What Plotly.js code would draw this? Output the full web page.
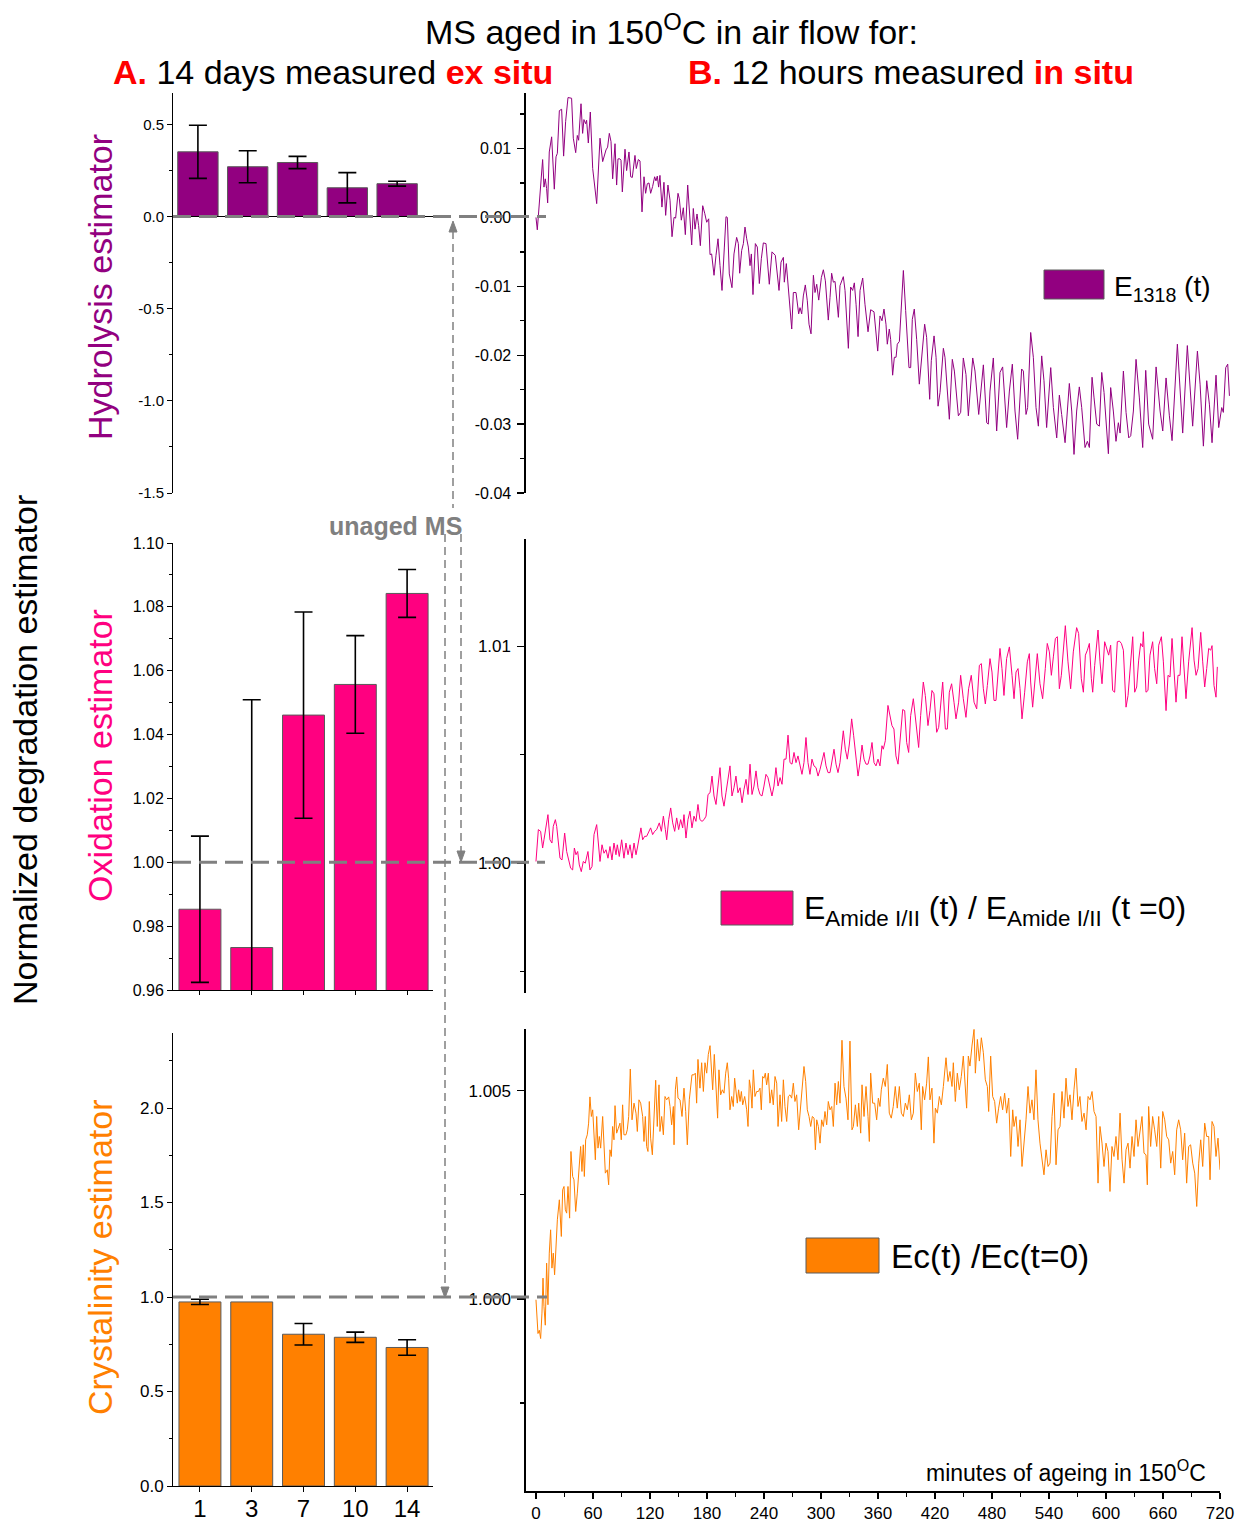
<!DOCTYPE html>
<html><head><meta charset="utf-8">
<script src="https://cdn.plot.ly/plotly-3.0.1.min.js"></script>
<style>html,body{margin:0;padding:0;background:#fff}#chart{width:1244px;height:1522px}</style>
</head><body><div id="chart"></div>
<script>
// ---------- data: ex situ (bars) ----------
const days = ['1', '3', '7', '10', '14'];
const hydroMean = [0.351, 0.270, 0.293, 0.156, 0.178];
const hydroErr  = [0.144, 0.087, 0.033, 0.082, 0.013];
const oxMean = [0.9853, 0.9733, 1.0461, 1.0557, 1.0842];
const oxErr  = [0.0229, 0.0776, 0.0323, 0.0153, 0.0075];
const crystMean = [0.974, 0.974, 0.803, 0.787, 0.733];
const crystErr  = [0.014, NaN, 0.057, 0.027, 0.041];

// tick labels (hyphen minus as in the original figure)
const hydroTickVals = [-1.5, -1.0, -0.5, 0.0, 0.5];
const hydroTickText = ['-1.5', '-1.0', '-0.5', '0.0', '0.5'];
const e1318TickVals = [-0.04, -0.03, -0.02, -0.01, 0.00, 0.01];
const e1318TickText = ['-0.04', '-0.03', '-0.02', '-0.01', '0.00', '0.01'];

// ---------- data: in situ (minutes, estimator) ----------
const tHydro = [
0,1.4,7.0,8.4,9.8,11.2,12.3,14.0,16.5,19.3,
21.1,22.5,24.6,27.0,29.1,31.2,33.7,37.5,39.3,41.8,
43.5,44.9,47.4,49.1,50.5,52.3,53.3,55.1,57.2,59.7,
63.9,67.4,70.2,73.7,75.4,77.2,79.0,80.7,83.2,84.9,
86.3,88.4,89.5,90.9,93.7,95.4,97.9,99.7,101.4,104.2,
105.6,107.7,109.5,111.6,113.7,115.4,117.2,119.0,120.7,122.8,
124.9,126.3,127.7,129.1,130.5,132.6,134.7,136.5,138.9,141.1,
143.2,145.3,147.0,149.5,150.9,153.0,155.1,157.2,159.7,161.8,
163.9,165.6,167.4,169.5,171.2,173.0,175.5,177.6,179.7,181.8,
183.2,184.9,187.4,189.5,191.6,193.7,195.8,198.3,200.0,201.4,
203.5,206.3,208.4,211.2,213.0,214.4,216.5,218.3,220.0,221.8,
223.5,225.3,226.7,228.4,230.9,233.0,235.1,237.2,239.3,242.1,
245.6,248.4,251.9,255.8,257.9,260.4,261.4,263.5,266.7,269.2,
270.9,273.7,276.5,277.9,279.7,281.4,283.5,285.6,287.4,289.5,
292.0,293.7,295.5,297.6,300.4,302.5,304.6,307.7,309.5,311.2,
313.0,314.8,318.3,320.0,323.5,325.3,328.8,331.2,333.3,335.1,
336.9,339.0,341.1,343.9,346.3,349.5,352.3,355.8,359.7,362.1,
364.2,366.3,368.4,369.8,371.9,373.3,375.4,377.2,379.0,380.3,
382.5,384.2,386.7,389.1,392.6,394.4,396.1,398.2,400.7,403.5,
405.6,409.1,411.2,414.4,416.1,419.0,421.1,423.2,425.3,428.8,
430.5,435.1,438.2,440.4,444.6,447.0,449.8,452.6,455.1,459.7,
462.1,466.0,470.9,474.4,476.1,477.9,481.4,484.9,488.4,491.2,
495.4,498.3,501.4,504.2,507.0,511.2,513.0,515.8,517.5,520.7,
523.5,526.3,528.8,532.3,534.7,537.5,541.8,544.6,548.1,550.9,
553.3,556.9,561.4,563.9,566.3,569.1,571.9,574.4,577.9,580.4,
582.5,585.3,587.4,590.2,593.0,595.5,597.9,602.5,604.9,607.7,
610.5,613.0,614.8,618.3,621.1,623.9,626.0,628.8,631.6,635.1,
638.6,641.8,644.9,649.1,652.7,656.9,659.7,663.2,666.7,669.5,
675.1,677.9,680.7,685.6,688.4,691.2,696.2,699.0,702.5,706.0,
708.8,711.6,715.8,718.6,721.8,723.5,726.0,728.1,729.9];
const eHydro = [
0.0000,-0.0018,0.0084,0.0044,0.0056,0.0042,0.0021,0.0095,0.0117,0.0041,
0.0088,0.0093,0.0155,0.0157,0.0089,0.0139,0.0174,0.0173,0.0115,0.0094,
0.0119,0.0112,0.0165,0.0122,0.0142,0.0136,0.0141,0.0108,0.0153,0.0071,
0.0020,0.0115,0.0081,0.0098,0.0102,0.0122,0.0110,0.0056,0.0107,0.0047,
0.0085,0.0085,0.0083,0.0037,0.0099,0.0068,0.0095,0.0059,0.0058,0.0090,
0.0071,0.0084,0.0082,0.0008,0.0059,0.0035,0.0049,0.0050,0.0035,0.0045,
0.0059,0.0053,0.0060,0.0044,0.0061,0.0015,0.0051,0.0003,0.0047,0.0025,
-0.0028,0.0000,-0.0001,0.0035,0.0027,-0.0004,0.0014,-0.0025,0.0047,0.0000,
-0.0040,0.0013,-0.0017,0.0005,-0.0012,-0.0041,0.0017,0.0006,-0.0007,-0.0002,
-0.0054,-0.0053,-0.0084,-0.0055,-0.0031,-0.0070,-0.0106,-0.0043,0.0001,0.0000,
-0.0082,-0.0102,-0.0053,-0.0029,-0.0038,-0.0081,-0.0048,-0.0038,-0.0014,-0.0031,
-0.0043,-0.0070,-0.0053,-0.0112,-0.0038,-0.0043,-0.0096,-0.0060,-0.0037,-0.0038,
-0.0097,-0.0050,-0.0055,-0.0106,-0.0065,-0.0058,-0.0094,-0.0067,-0.0118,-0.0162,
-0.0109,-0.0109,-0.0140,-0.0131,-0.0140,-0.0114,-0.0098,-0.0121,-0.0155,-0.0169,
-0.0084,-0.0109,-0.0097,-0.0120,-0.0087,-0.0076,-0.0092,-0.0149,-0.0116,-0.0081,
-0.0094,-0.0093,-0.0145,-0.0099,-0.0086,-0.0106,-0.0190,-0.0101,-0.0106,-0.0095,
-0.0126,-0.0173,-0.0106,-0.0088,-0.0126,-0.0166,-0.0134,-0.0137,-0.0194,-0.0143,
-0.0150,-0.0133,-0.0155,-0.0184,-0.0162,-0.0177,-0.0229,-0.0203,-0.0203,-0.0184,
-0.0180,-0.0145,-0.0077,-0.0135,-0.0218,-0.0218,-0.0148,-0.0133,-0.0177,-0.0242,
-0.0211,-0.0155,-0.0174,-0.0264,-0.0208,-0.0172,-0.0203,-0.0274,-0.0254,-0.0190,
-0.0203,-0.0293,-0.0206,-0.0223,-0.0288,-0.0283,-0.0204,-0.0228,-0.0288,-0.0204,
-0.0223,-0.0286,-0.0214,-0.0298,-0.0300,-0.0252,-0.0204,-0.0310,-0.0225,-0.0217,
-0.0305,-0.0252,-0.0213,-0.0281,-0.0322,-0.0220,-0.0223,-0.0286,-0.0276,-0.0167,
-0.0203,-0.0276,-0.0303,-0.0201,-0.0237,-0.0305,-0.0218,-0.0276,-0.0320,-0.0258,
-0.0286,-0.0327,-0.0241,-0.0281,-0.0344,-0.0281,-0.0246,-0.0276,-0.0334,-0.0325,
-0.0334,-0.0232,-0.0262,-0.0300,-0.0303,-0.0225,-0.0254,-0.0343,-0.0247,-0.0281,
-0.0325,-0.0298,-0.0313,-0.0223,-0.0283,-0.0320,-0.0317,-0.0281,-0.0206,-0.0262,
-0.0334,-0.0222,-0.0300,-0.0322,-0.0217,-0.0281,-0.0310,-0.0233,-0.0288,-0.0324,
-0.0184,-0.0252,-0.0313,-0.0186,-0.0247,-0.0303,-0.0194,-0.0242,-0.0332,-0.0237,
-0.0271,-0.0327,-0.0229,-0.0305,-0.0276,-0.0283,-0.0218,-0.0213,-0.0259];

const tOx = [
0,2.5,4.9,7.0,8.4,10.5,12.6,14.7,16.8,18.2,
20.4,21.8,23.5,25.3,27.4,30.2,32.3,34.4,36.5,38.6,
40.4,42.1,43.9,45.6,47.7,49.8,51.9,54.7,56.8,59.0,
61.1,63.9,66.0,67.4,69.5,71.6,73.7,75.8,77.9,80.0,
82.1,84.2,85.6,87.7,90.2,92.6,94.7,96.9,99.0,101.1,
103.2,105.3,106.7,108.8,110.5,112.3,114.4,116.5,118.6,120.7,
122.8,124.9,127.0,129.8,132.0,134.1,136.2,137.6,139.7,141.8,
143.9,146.0,148.1,150.2,152.3,154.4,155.8,157.9,160.0,162.1,
164.2,166.3,168.4,170.5,172.6,174.8,176.9,179.0,181.1,183.2,
185.3,187.4,189.5,191.6,193.7,195.8,197.9,200.0,202.1,204.2,
206.3,208.4,210.5,212.6,214.8,216.9,219.0,221.1,223.2,225.3,
227.4,229.5,231.6,233.7,235.8,237.9,240.0,242.1,244.2,246.3,
248.4,250.5,252.6,254.8,256.9,259.0,261.1,263.2,265.3,267.4,
269.5,271.6,273.7,275.8,277.9,280.0,282.1,284.2,286.3,288.4,
290.5,292.6,294.8,296.9,299.0,301.1,303.2,305.3,307.4,309.5,
311.6,313.7,315.8,317.9,320.0,322.1,323.5,325.6,327.7,329.9,
332.3,334.4,336.9,339.0,341.1,343.2,345.3,347.4,349.5,351.6,
353.7,355.8,357.9,360.0,362.1,364.2,365.6,367.7,370.5,372.6,
374.7,376.8,378.9,381.1,383.2,386.0,388.1,390.2,392.3,394.4,
397.2,400.0,402.8,404.9,407.7,409.8,412.6,414.7,416.8,418.9,
421.8,423.9,426.0,428.1,430.9,433.0,435.1,437.5,440.0,442.1,
444.9,447.0,449.8,452.6,455.4,458.2,461.1,463.9,466.7,468.8,
470.9,473.0,475.1,477.9,480.0,482.1,484.2,486.3,488.4,490.5,
492.6,495.4,498.3,501.1,503.2,505.3,507.4,509.5,511.6,514.4,
517.2,519.3,520.7,522.8,525.6,527.7,530.5,533.3,536.1,538.2,
540.4,542.5,544.6,546.7,548.8,550.9,553.0,555.1,557.2,560.0,
562.8,565.6,569.1,571.2,574.0,576.2,578.3,580.4,582.5,584.6,
586.0,588.1,590.2,591.6,593.7,595.8,598.6,600.7,602.8,604.9,
607.0,609.1,611.9,614.1,616.2,618.3,621.1,623.2,625.3,628.1,
630.2,632.3,634.4,636.5,638.6,639.3,642.1,644.2,646.3,649.1,
651.2,653.4,655.5,658.3,660.4,663.2,665.3,667.4,669.5,671.6,
673.7,675.8,677.9,680.0,682.1,684.2,687.0,690.6,692.7,694.8,
696.9,699.7,701.8,703.9,706.0,708.1,710.2,711.6,713.7,715.8,717.2];
const eOx = [
1.00008,1.00155,1.00147,1.00070,1.00108,1.00163,1.00224,1.00108,1.00093,1.00170,
1.00201,1.00170,1.00093,1.00023,1.00015,1.00139,1.00054,1.00015,0.99977,0.99969,
1.00070,1.00039,1.00054,0.99992,0.99961,1.00008,1.00000,1.00054,0.99969,0.99985,
1.00132,1.00178,1.00062,1.00008,1.00085,1.00046,1.00062,1.00023,1.00077,1.00015,
1.00093,1.00039,1.00085,1.00031,1.00108,1.00023,1.00093,1.00039,1.00085,1.00023,
1.00093,1.00039,1.00070,1.00116,1.00163,1.00108,1.00124,1.00124,1.00147,1.00163,
1.00132,1.00147,1.00155,1.00186,1.00147,1.00217,1.00155,1.00108,1.00201,1.00255,
1.00186,1.00147,1.00209,1.00155,1.00201,1.00163,1.00224,1.00116,1.00201,1.00240,
1.00163,1.00217,1.00193,1.00271,1.00201,1.00193,1.00201,1.00217,1.00317,1.00325,
1.00402,1.00310,1.00271,1.00372,1.00441,1.00310,1.00263,1.00325,1.00387,1.00449,
1.00310,1.00348,1.00402,1.00325,1.00348,1.00279,1.00341,1.00387,1.00317,1.00457,
1.00317,1.00356,1.00426,1.00348,1.00317,1.00310,1.00356,1.00410,1.00395,1.00348,
1.00310,1.00356,1.00441,1.00356,1.00395,1.00364,1.00480,1.00480,1.00591,1.00464,
1.00457,1.00511,1.00464,1.00495,1.00449,1.00410,1.00464,1.00580,1.00464,1.00410,
1.00480,1.00449,1.00441,1.00402,1.00433,1.00472,1.00511,1.00449,1.00418,1.00418,
1.00480,1.00526,1.00457,1.00418,1.00464,1.00542,1.00611,1.00526,1.00480,1.00550,
1.00666,1.00588,1.00495,1.00402,1.00464,1.00545,1.00480,1.00457,1.00457,1.00495,
1.00557,1.00464,1.00449,1.00480,1.00449,1.00542,1.00526,1.00565,1.00728,1.00681,
1.00635,1.00619,1.00495,1.00457,1.00557,1.00709,1.00704,1.00557,1.00511,1.00681,
1.00759,1.00635,1.00534,1.00681,1.00836,1.00774,1.00635,1.00704,1.00797,1.00782,
1.00604,1.00627,1.00743,1.00836,1.00619,1.00619,1.00789,1.00828,1.00743,1.00666,
1.00743,1.00867,1.00759,1.00673,1.00805,1.00867,1.00743,1.00712,1.00913,1.00921,
1.00805,1.00735,1.00820,1.00944,1.00882,1.00751,1.00751,1.00898,1.00991,1.00898,
1.00774,1.00944,1.00998,1.00867,1.00759,1.00882,1.00898,1.00805,1.00666,1.00789,
1.00929,1.00967,1.00836,1.00720,1.00867,1.00967,1.00828,1.00759,1.00898,1.01014,
1.00975,1.00867,1.00952,1.01037,1.01045,1.00805,1.00867,1.01006,1.01096,1.00929,
1.00805,1.00975,1.01087,1.01060,1.00851,1.00789,1.00960,1.00983,1.01014,1.00851,
1.00789,1.00913,1.00998,1.01076,1.00929,1.00828,1.01022,1.00991,1.00960,1.01006,
1.00797,1.00789,1.01022,1.01025,1.01014,1.00983,1.00720,1.00774,1.00898,1.01045,
1.00789,1.00813,1.00937,1.01014,1.00998,1.01068,1.00789,1.00797,1.00960,1.01022,
1.00898,1.00828,1.01006,1.01045,1.00929,1.00704,1.00867,1.00859,1.01037,1.00882,
1.00743,1.00867,1.00867,1.01045,1.00882,1.00759,1.00929,1.01087,1.00937,1.00867,
1.00898,1.01065,1.00929,1.00813,1.00898,1.00991,1.00983,1.01004,1.00820,1.00766,1.00906];

const tCryst = [
0,2.1,3.5,4.9,6.3,7.4,8.4,9.8,11.2,12.6,
14.0,15.4,16.8,18.2,19.6,21.1,22.5,24.6,26.7,28.1,
29.5,30.9,32.3,33.7,35.4,36.8,38.6,40.0,41.8,43.5,
45.3,47.0,48.4,49.8,50.9,52.3,54.0,55.4,56.8,58.3,
59.7,61.1,62.5,63.9,65.3,66.7,68.1,70.2,71.6,73.0,
75.1,76.5,77.9,79.3,80.7,82.1,83.2,84.9,86.7,88.4,
89.8,91.2,92.6,94.7,96.1,97.6,99.3,101.1,103.2,105.3,
106.7,108.4,110.2,112.3,113.7,115.1,116.5,117.9,119.3,120.7,
122.5,124.2,126.0,127.7,129.5,130.5,132.3,134.1,135.8,137.6,
139.7,141.1,142.8,144.6,145.3,146.7,148.1,149.5,151.6,153.7,
155.8,157.6,159.3,161.4,162.8,164.2,166.3,167.7,169.1,170.5,
172.6,174.4,176.2,177.9,179.7,181.4,183.2,184.9,186.0,187.7,
189.5,191.2,192.6,194.4,196.2,197.9,199.7,201.4,202.8,204.2,
206.0,207.7,209.1,210.5,211.9,213.3,214.8,216.2,217.6,219.7,
221.8,223.2,224.6,226.0,227.4,228.8,230.5,232.3,234.1,235.8,
237.2,238.6,240.0,241.4,242.8,244.6,246.3,248.1,249.8,251.6,
253.4,254.8,256.9,258.6,260.4,262.1,263.9,265.6,267.4,269.1,
270.9,272.6,274.4,276.5,278.6,280.7,282.1,283.9,285.6,287.4,
289.2,290.9,292.7,294.1,295.5,297.2,299.0,300.7,302.5,304.2,
306.0,307.7,309.5,311.3,313.0,314.8,316.5,318.3,320.0,322.1,
324.2,326.3,328.4,330.5,332.6,334.1,336.2,338.3,339.7,341.8,
343.2,345.3,347.4,349.5,350.9,352.3,354.4,356.5,358.6,360.4,
362.1,363.5,365.6,367.7,369.8,371.9,374.0,376.1,378.2,380.3,
382.5,384.6,386.7,388.8,390.9,393.0,395.1,397.2,399.3,401.4,
403.5,405.6,407.0,409.1,411.2,413.0,414.7,416.8,418.9,420.4,
422.5,424.6,426.7,428.8,431.6,433.7,435.8,437.9,439.3,441.4,
443.5,445.6,447.7,449.8,451.6,453.3,455.1,456.8,458.9,461.1,
462.5,464.6,466.7,468.8,470.9,473.0,475.1,476.5,478.6,480.7,
482.8,484.9,487.0,489.1,491.2,493.3,495.4,497.6,499.7,501.8,
503.2,505.3,507.4,509.5,511.6,513.7,515.8,517.9,520.0,522.1,
524.2,526.3,528.4,530.5,532.6,534.7,536.9,539.0,541.1,543.2,
545.3,547.4,549.5,551.6,553.7,555.8,557.9,560.0,562.1,564.2,
566.3,568.4,570.5,572.6,574.7,576.9,579.0,581.1,583.2,585.3,
587.4,589.5,591.6,593.7,595.8,597.9,600.0,602.1,604.2,606.3,
608.4,610.5,612.6,614.8,616.9,619.0,621.1,623.2,625.3,627.4,
629.5,631.6,633.7,635.8,637.9,640.0,642.1,643.5,644.9,647.0,
649.1,651.2,653.4,655.5,657.6,659.7,661.8,663.9,666.0,668.1,
670.2,672.3,674.4,676.5,678.6,680.7,682.8,684.9,687.0,689.1,
691.3,693.4,695.5,697.6,699.7,701.8,703.9,706.0,708.1,709.5,
711.6,713.7,715.8,717.9,720.0];
const eCryst = [
0.99998,0.99917,0.99925,0.99905,0.99966,1.00050,0.99982,0.99937,1.00086,0.99986,
1.00110,1.00166,1.00074,1.00110,1.00058,1.00126,1.00190,1.00238,1.00150,1.00262,
1.00270,1.00214,1.00206,1.00270,1.00194,1.00354,1.00294,1.00286,1.00210,1.00254,
1.00302,1.00366,1.00306,1.00370,1.00294,1.00382,1.00394,1.00422,1.00485,1.00438,
1.00454,1.00398,1.00334,1.00438,1.00362,1.00390,1.00362,1.00438,1.00358,1.00302,
1.00310,1.00274,1.00358,1.00342,1.00414,1.00382,1.00464,1.00398,1.00410,1.00422,
1.00382,1.00466,1.00394,1.00394,1.00406,1.00438,1.00552,1.00430,1.00470,1.00446,
1.00402,1.00478,1.00470,1.00438,1.00378,1.00438,1.00366,1.00354,1.00474,1.00386,
1.00346,1.00458,1.00525,1.00414,1.00514,1.00402,1.00438,1.00394,1.00486,1.00478,
1.00485,1.00462,1.00418,1.00462,1.00370,1.00502,1.00533,1.00482,1.00478,1.00438,
1.00506,1.00450,1.00370,1.00478,1.00502,1.00538,1.00538,1.00542,1.00470,1.00575,
1.00506,1.00567,1.00498,1.00567,1.00542,1.00587,1.00608,1.00550,1.00502,1.00587,
1.00518,1.00434,1.00550,1.00490,1.00502,1.00494,1.00542,1.00567,1.00530,1.00454,
1.00486,1.00462,1.00530,1.00498,1.00470,1.00502,1.00474,1.00498,1.00466,1.00486,
1.00454,1.00414,1.00526,1.00506,1.00458,1.00550,1.00486,1.00498,1.00498,1.00506,
1.00454,1.00534,1.00530,1.00542,1.00514,1.00542,1.00470,1.00502,1.00466,1.00534,
1.00518,1.00414,1.00490,1.00426,1.00526,1.00462,1.00426,1.00486,1.00490,1.00482,
1.00518,1.00474,1.00490,1.00406,1.00470,1.00514,1.00558,1.00522,1.00454,1.00438,
1.00414,1.00438,1.00434,1.00358,1.00430,1.00414,1.00374,1.00430,1.00414,1.00450,
1.00418,1.00474,1.00454,1.00462,1.00414,1.00518,1.00466,1.00522,1.00470,1.00621,
1.00510,1.00482,1.00430,1.00619,1.00406,1.00414,1.00466,1.00414,1.00470,1.00398,
1.00514,1.00438,1.00510,1.00438,1.00378,1.00542,1.00470,1.00470,1.00430,1.00482,
1.00462,1.00502,1.00530,1.00510,1.00563,1.00446,1.00434,1.00462,1.00510,1.00458,
1.00510,1.00446,1.00438,1.00470,1.00454,1.00490,1.00430,1.00446,1.00542,1.00498,
1.00518,1.00406,1.00510,1.00478,1.00518,1.00581,1.00478,1.00506,1.00374,1.00458,
1.00446,1.00486,1.00466,1.00510,1.00579,1.00522,1.00546,1.00510,1.00567,1.00474,
1.00542,1.00502,1.00534,1.00583,1.00510,1.00458,1.00583,1.00559,1.00607,1.00647,
1.00542,1.00623,1.00571,1.00627,1.00591,1.00526,1.00510,1.00450,1.00583,1.00486,
1.00474,1.00422,1.00458,1.00486,1.00454,1.00494,1.00446,1.00482,1.00342,1.00454,
1.00414,1.00438,1.00366,1.00430,1.00318,1.00374,1.00430,1.00510,1.00446,1.00478,
1.00430,1.00550,1.00430,1.00374,1.00334,1.00298,1.00358,1.00318,1.00326,1.00438,
1.00494,1.00322,1.00406,1.00414,1.00498,1.00434,1.00530,1.00462,1.00490,1.00430,
1.00502,1.00554,1.00462,1.00486,1.00426,1.00446,1.00406,1.00486,1.00478,1.00498,
1.00450,1.00438,1.00278,1.00414,1.00374,1.00318,1.00374,1.00354,1.00258,1.00366,
1.00342,1.00390,1.00334,1.00446,1.00334,1.00278,1.00358,1.00374,1.00314,1.00390,
1.00342,1.00430,1.00366,1.00406,1.00438,1.00350,1.00346,1.00274,1.00462,1.00366,
1.00438,1.00406,1.00366,1.00438,1.00314,1.00450,1.00430,1.00390,1.00382,1.00326,
1.00354,1.00298,1.00406,1.00430,1.00406,1.00334,1.00398,1.00278,1.00366,1.00370,
1.00326,1.00302,1.00222,1.00326,1.00382,1.00318,1.00422,1.00390,1.00390,1.00286,
1.00426,1.00414,1.00342,1.00386,1.00310];

// ---------- styling ----------
const PURPLE = '#920080', PINK = '#FF0080', ORANGE = '#FF8000', RED = '#FF0000', GREY = '#808080';
const FONT = 'Liberation Sans, Arial, Helvetica, sans-serif';
const W = 1244, H = 1522;
const px = v => v / W;          // horizontal paper fraction
const py = v => 1 - v / H;      // vertical paper fraction

function bar(x, y, err, color, xa, ya) {
  return {type: 'bar', x: x, y: y, xaxis: xa, yaxis: ya, showlegend: false, hoverinfo: 'skip',
    marker: {color: color, line: {color: '#5a5a5a', width: 1}},
    error_y: {type: 'data', array: err, visible: true, color: '#000', thickness: 1.6, width: 9}};
}
function line(x, y, color, xa, ya) {
  return {type: 'scatter', mode: 'lines', x: x, y: y, xaxis: xa, yaxis: ya, showlegend: false,
    hoverinfo: 'skip', line: {color: color, width: 1}};
}
const data = [
  bar(days, hydroMean, hydroErr, PURPLE, 'x', 'y'),
  bar(days, oxMean, oxErr, PINK, 'x2', 'y2'),
  bar(days, crystMean, crystErr, ORANGE, 'x3', 'y3'),
  line(tHydro, eHydro, PURPLE, 'x4', 'y4'),
  line(tOx, eOx, PINK, 'x5', 'y5'),
  line(tCryst, eCryst, ORANGE, 'x6', 'y6')
];

const xL = [px(173), px(433)];
const xR = [px(526), px(1220)];
const baseY = (size) => ({showgrid: false, zeroline: false, showline: true, linecolor: '#000',
  ticks: 'outside', tickcolor: '#000', tickfont: {family: FONT, size: size, color: '#000'}});

const layout = {
  width: W, height: H, autosize: false,
  margin: {l: 0, r: 0, t: 0, b: 0},
  paper_bgcolor: '#fff', plot_bgcolor: 'rgba(0,0,0,0)',
  font: {family: FONT, color: '#000'},
  bargap: 0.19, showlegend: false,
  xaxis: {domain: xL, anchor: 'y', type: 'category', range: [-0.5, 4.72], showline: false,
    showticklabels: false, ticks: '', showgrid: false, zeroline: false, fixedrange: true},
  yaxis: Object.assign(baseY(15), {domain: [py(493), py(93)], anchor: 'x', range: [-1.5, 0.67],
    tickmode: 'array', tickvals: hydroTickVals, ticktext: hydroTickText, ticklen: 5, linewidth: 1,
    minor: {dtick: 0.25, tick0: 0, ticklen: 3, ticks: 'outside', tickcolor: '#000'}}),
  xaxis2: {domain: xL, anchor: 'y2', type: 'category', range: [-0.52, 4.5], showline: true,
    linecolor: '#000', linewidth: 1, ticks: 'outside', ticklen: 4, tickcolor: '#000',
    showticklabels: false, showgrid: false, zeroline: false},
  yaxis2: Object.assign(baseY(16), {domain: [py(990), py(543)], anchor: 'x2', range: [0.96, 1.10],
    dtick: 0.02, tick0: 0.96, tickformat: '.2f', ticklen: 5, linewidth: 1,
    minor: {dtick: 0.01, ticklen: 3, ticks: 'outside', tickcolor: '#000'}}),
  xaxis3: {domain: xL, anchor: 'y3', type: 'category', range: [-0.52, 4.5], showline: true,
    linecolor: '#000', linewidth: 1, ticks: 'outside', ticklen: 5, tickcolor: '#000',
    ticklabelstandoff: -4,
    showgrid: false, zeroline: false, tickfont: {family: FONT, size: 24, color: '#000'}},
  yaxis3: Object.assign(baseY(17), {domain: [py(1486), py(1033)], anchor: 'x3', range: [0, 2.397],
    dtick: 0.5, tick0: 0, tickformat: '.1f', ticklen: 5, linewidth: 1,
    minor: {dtick: 0.25, ticklen: 3, ticks: 'outside', tickcolor: '#000'}}),
  xaxis4: {domain: [px(526), px(1230)], anchor: 'y4', range: [-10.5, 730.5], visible: false},
  yaxis4: Object.assign(baseY(16), {domain: [py(493), py(93)], anchor: 'x4', range: [-0.04, 0.01806],
    tickmode: 'array', tickvals: e1318TickVals, ticktext: e1318TickText,
    ticklen: 7, linewidth: 1.6, tickwidth: 1.3, ticklabelstandoff: 3,
    minor: {dtick: 0.005, tick0: 0, ticklen: 4, ticks: 'outside', tickcolor: '#000', tickwidth: 1.3}}),
  xaxis5: {domain: xR, anchor: 'y5', range: [-10.5, 720], visible: false},
  yaxis5: Object.assign(baseY(17), {domain: [py(993), py(539)], anchor: 'x5', range: [0.99401, 1.01496],
    dtick: 0.01, tick0: 1.0, tickformat: '.2f', ticklen: 7, linewidth: 1.6, tickwidth: 1.3,
    ticklabelstandoff: 3,
    minor: {dtick: 0.005, ticklen: 4, ticks: 'outside', tickcolor: '#000', tickwidth: 1.3}}),
  xaxis6: {domain: xR, anchor: 'y6', range: [-10.5, 720], dtick: 60, tick0: 0, showline: true,
    linecolor: '#000', linewidth: 1.6, ticks: 'outside', ticklen: 6, tickwidth: 1.3, tickcolor: '#000',
    showgrid: false, zeroline: false, tickfont: {family: FONT, size: 17, color: '#000'},
    minor: {dtick: 30, ticklen: 4, ticks: 'outside', tickcolor: '#000', tickwidth: 1.3}},
  yaxis6: Object.assign(baseY(17), {domain: [py(1491), py(1029)], anchor: 'x6', range: [0.99539, 1.00648],
    dtick: 0.005, tick0: 1.0, tickformat: '.3f', ticklen: 7, linewidth: 1.6, tickwidth: 1.3,
    ticklabelstandoff: 3,
    minor: {dtick: 0.0025, ticklen: 4, ticks: 'outside', tickcolor: '#000', tickwidth: 1.3}}),
  shapes: [],
  annotations: []
};

// axis line at zero for the top-left panel
layout.shapes.push({type: 'line', xref: 'x domain', yref: 'y', x0: 0, x1: 1, y0: 0, y1: 0,
  line: {color: '#000', width: 1}});
// "unaged MS" reference dashed lines
const hDash = {color: GREY, width: 3, dash: '18px,8px'};
layout.shapes.push({type: 'line', xref: 'paper', yref: 'y', x0: px(173), x1: px(546), y0: 0, y1: 0, line: hDash});
layout.shapes.push({type: 'line', xref: 'paper', yref: 'y2', x0: px(173), x1: px(545), y0: 1, y1: 1, line: hDash});
layout.shapes.push({type: 'line', xref: 'paper', yref: 'y3', x0: px(173), x1: px(547), y0: 1, y1: 1, line: hDash});
const vDash = {color: GREY, width: 1.5, dash: '8px,5px'};
layout.shapes.push({type: 'line', xref: 'paper', yref: 'paper', x0: px(453), x1: px(453), y0: py(231), y1: py(508), line: vDash});
layout.shapes.push({type: 'line', xref: 'paper', yref: 'paper', x0: px(461), x1: px(461), y0: py(534), y1: py(852), line: vDash});
layout.shapes.push({type: 'line', xref: 'paper', yref: 'paper', x0: px(445), x1: px(445), y0: py(534), y1: py(1288), line: vDash});
// arrow heads (small filled triangles)
function head(x, tipY, baseY) {
  const p = 'M ' + px(x) + ' ' + py(tipY) + ' L ' + px(x - 4) + ' ' + py(baseY) +
            ' L ' + px(x + 4) + ' ' + py(baseY) + ' Z';
  return {type: 'path', xref: 'paper', yref: 'paper', path: p, fillcolor: GREY, line: {color: GREY, width: 1}};
}
layout.shapes.push(head(453, 221, 232));
layout.shapes.push(head(461, 862, 851));
layout.shapes.push(head(445, 1298, 1287));

// legend boxes
const box = (x0, x1, y0, y1, c) => ({type: 'rect', xref: 'paper', yref: 'paper',
  x0: px(x0), x1: px(x1), y0: py(y1), y1: py(y0), fillcolor: c, line: {color: '#5a5a5a', width: 1}});
layout.shapes.push(box(1044, 1104, 270, 299, PURPLE));
layout.shapes.push(box(721, 793, 891, 925, PINK));
layout.shapes.push(box(806, 879, 1238, 1273, ORANGE));

function txt(x, y, text, size, opts) {
  return Object.assign({xref: 'paper', yref: 'paper', x: x, y: y, text: text, showarrow: false,
    xanchor: 'center', yanchor: 'middle', font: {family: FONT, size: size, color: '#000'}}, opts || {});
}
const red = s => '<span style="color:' + RED + '"><b>' + s + '</b></span>';
layout.annotations.push(txt(px(671), py(30), 'MS aged in 150<sup>O</sup>C in air flow for:', 34));
layout.annotations.push(txt(px(333), py(72), red('A.') + ' 14 days measured ' + red('ex situ'), 34));
layout.annotations.push(txt(px(911), py(72), red('B.') + ' 12 hours measured ' + red('in situ'), 34));
layout.annotations.push(txt(px(25), py(750), 'Normalized degradation estimator', 34, {textangle: -90}));
layout.annotations.push(txt(px(100), py(287), 'Hydrolysis estimator', 34,
  {textangle: -90, font: {family: FONT, size: 34, color: PURPLE}}));
layout.annotations.push(txt(px(100), py(756), 'Oxidation estimator', 34,
  {textangle: -90, font: {family: FONT, size: 34, color: PINK}}));
layout.annotations.push(txt(px(100), py(1257), 'Crystalinity estimator', 34,
  {textangle: -90, font: {family: FONT, size: 34, color: ORANGE}}));
layout.annotations.push(txt(px(464), py(526), '<b>unaged MS</b>', 25,
  {xanchor: 'right', font: {family: FONT, size: 25, color: GREY}}));
layout.annotations.push(txt(px(1112), py(288), 'E<sub>1318</sub> (t)', 28, {xanchor: 'left'}));
layout.annotations.push(txt(px(802), py(910), 'E<sub>Amide I/II</sub> (t) / E<sub>Amide I/II</sub> (t =0)', 32, {xanchor: 'left'}));
layout.annotations.push(txt(px(889), py(1256), 'Ec(t) /Ec(t=0)', 33.5, {xanchor: 'left'}));
layout.annotations.push(txt(px(1208), py(1471), 'minutes of ageing in 150<sup>O</sup>C', 23, {xanchor: 'right'}));

Plotly.newPlot('chart', data, layout, {staticPlot: true, displayModeBar: false});
</script>
</body></html>
